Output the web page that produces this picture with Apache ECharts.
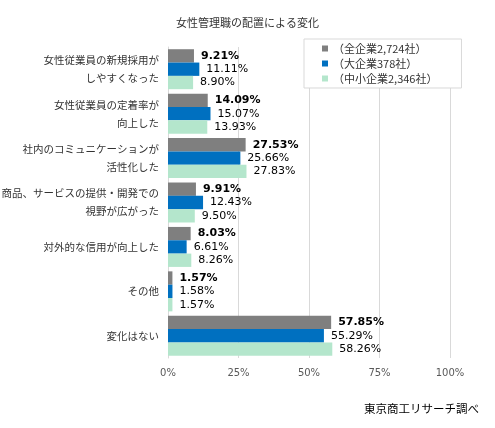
<!DOCTYPE html>
<html><head><meta charset="utf-8">
<script src="https://cdn.jsdelivr.net/npm/echarts@6/dist/echarts.min.js"></script>
<style>html,body{margin:0;padding:0;background:#fff}#c{width:495px;height:428px}</style>
</head><body><div id="c"></div>
<script>
var categories = ['女性従業員の新規採用が\nしやすくなった','女性従業員の定着率が\n向上した','社内のコミュニケーションが\n活性化した','商品、サービスの提供・開発での\n視野が広がった','対外的な信用が向上した','その他','変化はない'];
var seriesNames = ['（全企業2,724社）','（大企業378社）','（中小企業2,346社）'];
var allFirms = [9.21, 14.09, 27.53, 9.91, 8.03, 1.57, 57.85];
var largeFirms = [11.11, 15.07, 25.66, 12.43, 6.61, 1.58, 55.29];
var smallFirms = [8.90, 13.93, 27.83, 9.50, 8.26, 1.57, 58.26];
var xTicks = [0, 25, 50, 75, 100];
var colors = ['#7F7F7F', '#0070C0', '#B4E6CC'];
var fontCJK = '"Noto Sans CJK JP", "Noto Sans", sans-serif';
var fontNum = '"DejaVu Sans", Verdana, sans-serif';

var chart = echarts.init(document.getElementById('c'), null, {renderer: 'canvas'});
function mk(i, data, bold) {
  return {
    name: seriesNames[i], type: 'bar', data: data,
    barGap: '0%', barCategoryGap: '10%',
    itemStyle: {color: colors[i]},
    label: {show: true, position: 'right', distance: 7,
      fontFamily: fontNum, fontSize: 11, color: '#000',
      fontWeight: bold ? 'bold' : 'normal',
      formatter: function (p) { return p.value.toFixed(2) + '%'; }}
  };
}
chart.setOption({
  animation: false,
  backgroundColor: '#fff',
  title: {text: '女性管理職の配置による変化', left: 'center', top: 12,
    textStyle: {fontFamily: fontCJK, fontSize: 11, fontWeight: 'normal', color: '#333'}},
  graphic: [{type: 'text', right: 16, top: 403,
    style: {text: '東京商工リサーチ調べ', fontFamily: fontCJK, fontSize: 11.5, fill: '#000'}}],
  legend: {orient: 'vertical', left: 304, top: 39, padding: [4, 24, 4, 18],
    itemWidth: 6, itemHeight: 6, itemGap: 4, icon: 'rect',
    borderColor: '#d9d9d9', borderWidth: 1, backgroundColor: '#fff',
    textStyle: {fontFamily: fontCJK, fontSize: 11, color: '#333'},
    data: seriesNames},
  grid: {left: 168, right: 45, top: 47, bottom: 70, containLabel: false, outerBoundsMode: 'none'},
  xAxis: {type: 'value', min: xTicks[0], max: xTicks[xTicks.length - 1], interval: 25,
    axisLine: {show: false}, axisTick: {show: false},
    splitLine: {lineStyle: {color: '#d9d9d9'}},
    axisLabel: {formatter: '{value}%', fontFamily: fontNum, fontSize: 10, color: '#595959', margin: 10}},
  yAxis: {type: 'category', data: categories, inverse: true,
    axisLine: {show: true, lineStyle: {color: '#d9d9d9'}}, axisTick: {show: false},
    axisLabel: {fontFamily: fontCJK, fontSize: 10.5, color: '#333', lineHeight: 18, margin: 9}},
  series: [mk(0, allFirms, true), mk(1, largeFirms, false), mk(2, smallFirms, false)]
});
</script></body></html>
